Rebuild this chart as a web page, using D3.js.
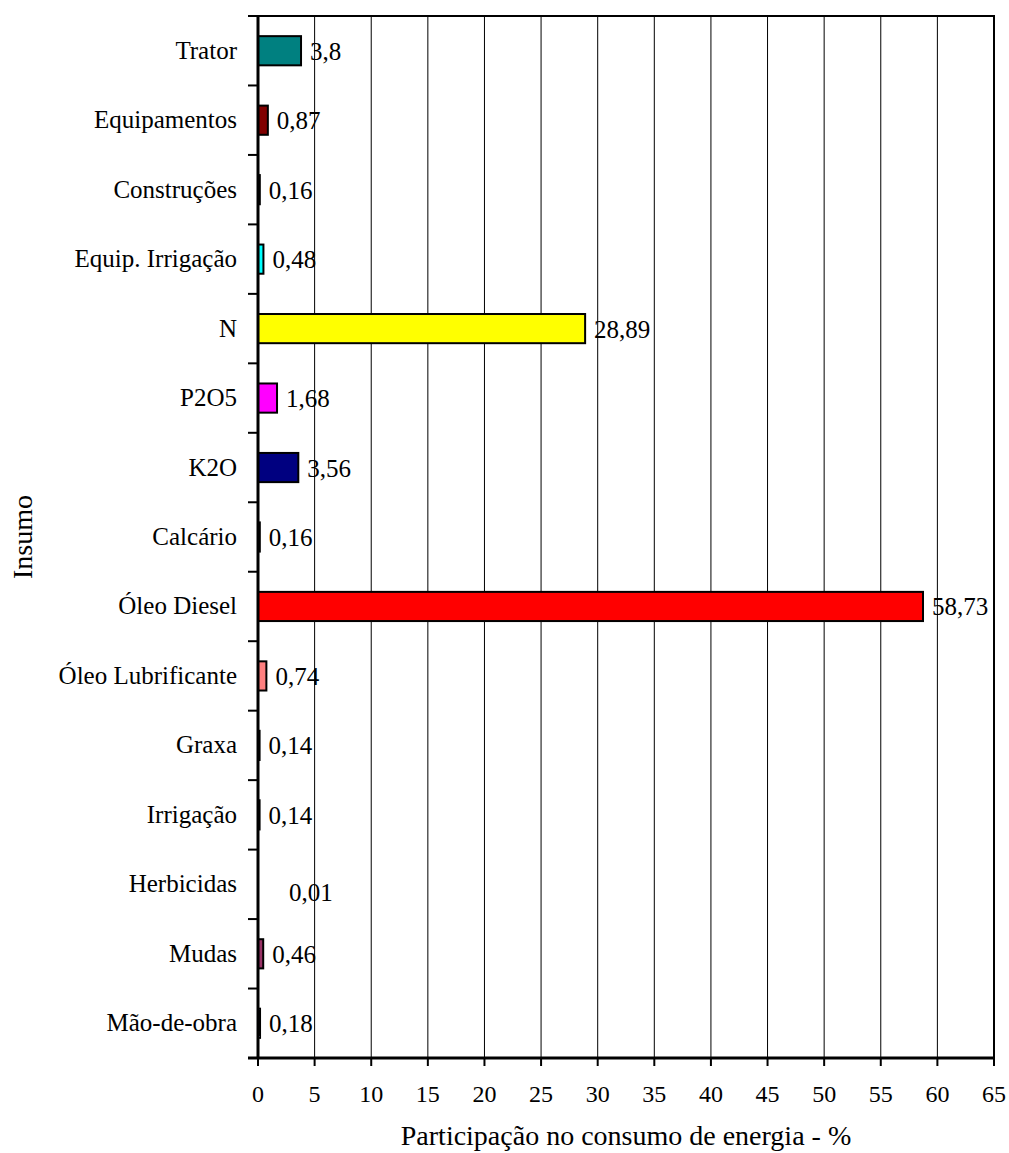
<!DOCTYPE html>
<html>
<head>
<meta charset="utf-8">
<script src="https://cdn.jsdelivr.net/npm/d3@7"></script>
<style>
  html, body { margin: 0; padding: 0; background: #fff; }
  text { font-family: "Liberation Serif", "Times New Roman", serif; fill: #000; }
</style>
</head>
<body>
<svg id="chart" width="1009" height="1153"></svg>
<script>
const categories = ["Trator", "Equipamentos", "Construções", "Equip. Irrigação", "N", "P2O5", "K2O", "Calcário", "Óleo Diesel", "Óleo Lubrificante", "Graxa", "Irrigação", "Herbicidas", "Mudas", "Mão-de-obra"];
const values = [3.8, 0.87, 0.16, 0.48, 28.89, 1.68, 3.56, 0.16, 58.73, 0.74, 0.14, 0.14, 0.01, 0.46, 0.18];
const valueLabels = ["3,8", "0,87", "0,16", "0,48", "28,89", "1,68", "3,56", "0,16", "58,73", "0,74", "0,14", "0,14", "0,01", "0,46", "0,18"];
const barColors = ["#008080", "#800000", "#800080", "#00FFFF", "#FFFF00", "#FF00FF", "#000080", "#339966", "#FF0000", "#FF8080", "#993300", "#0066CC", "#CCFFCC", "#993366", "#666699"];
const xTicks = [0, 5, 10, 15, 20, 25, 30, 35, 40, 45, 50, 55, 60, 65];
const xTitle = "Participação no consumo de energia - %";
const yTitle = "Insumo";

const svg = d3.select("#chart");
const L = 258, R = 994, T = 16, B = 1058;

const x = d3.scaleLinear().domain([0, 65]).range([L, R]);
const y = d3.scaleBand().domain(categories).range([T, B]).padding(0);
const barH = y.bandwidth() * 0.42;

// gridlines
svg.append("g").selectAll("line").data(xTicks.filter(t => t > 0 && t < 65)).join("line")
  .attr("x1", d => x(d)).attr("x2", d => x(d))
  .attr("y1", T).attr("y2", B)
  .attr("stroke", "#000").attr("stroke-width", 1);

// bars
const data = categories.map((c, i) => ({ c, v: values[i], lab: valueLabels[i], col: barColors[i] }));
svg.append("g").selectAll("rect").data(data).join("rect")
  .attr("x", x(0))
  .attr("y", d => y(d.c) + (y.bandwidth() - barH) / 2)
  .attr("width", d => x(d.v) - x(0))
  .attr("height", barH)
  .attr("fill", d => d.col)
  .attr("stroke", d => (x(d.v) - x(0)) < 0.5 ? "none" : "#000")
  .attr("stroke-width", 2);

// value labels
svg.append("g").selectAll("text").data(data).join("text")
  .attr("x", d => x(d.v) + 9 + ((x(d.v) - x(0)) < 0.5 ? 22 : 0))
  .attr("y", d => y(d.c) + y.bandwidth() / 2 + 9 + ((x(d.v) - x(0)) < 0.5 ? 8 : 0))
  .attr("font-size", 25)
  .text(d => d.lab);

// frame (top and right)
svg.append("line").attr("x1", L - 10).attr("x2", R + 1).attr("y1", T).attr("y2", T)
  .attr("stroke", "#000").attr("stroke-width", 2);
svg.append("line").attr("x1", R).attr("x2", R).attr("y1", T).attr("y2", B)
  .attr("stroke", "#000").attr("stroke-width", 2);

// y axis
const yAxisG = svg.append("g");
yAxisG.append("line").attr("x1", L).attr("x2", L).attr("y1", T).attr("y2", B + 1)
  .attr("stroke", "#000").attr("stroke-width", 3);
const boundaries = categories.map(c => y(c)).concat([B]);
yAxisG.selectAll("line.tick").data(boundaries).join("line").attr("class", "tick")
  .attr("x1", L - 10).attr("x2", L).attr("y1", d => d).attr("y2", d => d)
  .attr("stroke", "#000").attr("stroke-width", 2);
yAxisG.selectAll("text").data(categories).join("text")
  .attr("x", 237)
  .attr("y", d => y(d) + y.bandwidth() / 2 + 8)
  .attr("text-anchor", "end")
  .attr("font-size", 25)
  .text(d => d);

// x axis
const xAxisG = svg.append("g");
xAxisG.append("line").attr("x1", L - 10).attr("x2", R + 1).attr("y1", B).attr("y2", B)
  .attr("stroke", "#000").attr("stroke-width", 3);
xAxisG.selectAll("line.tick").data(xTicks).join("line").attr("class", "tick")
  .attr("x1", d => x(d)).attr("x2", d => x(d)).attr("y1", B).attr("y2", B + 8)
  .attr("stroke", "#000").attr("stroke-width", 2);
xAxisG.selectAll("text").data(xTicks).join("text")
  .attr("x", d => x(d)).attr("y", 1102)
  .attr("text-anchor", "middle")
  .attr("font-size", 24)
  .text(d => d);

// titles
svg.append("text").attr("x", (L + R) / 2).attr("y", 1145)
  .attr("text-anchor", "middle").attr("font-size", 28).text(xTitle);
svg.append("text").attr("transform", `translate(32,${(T + B) / 2}) rotate(-90)`)
  .attr("text-anchor", "middle").attr("font-size", 28).text(yTitle);
</script>
</body>
</html>
